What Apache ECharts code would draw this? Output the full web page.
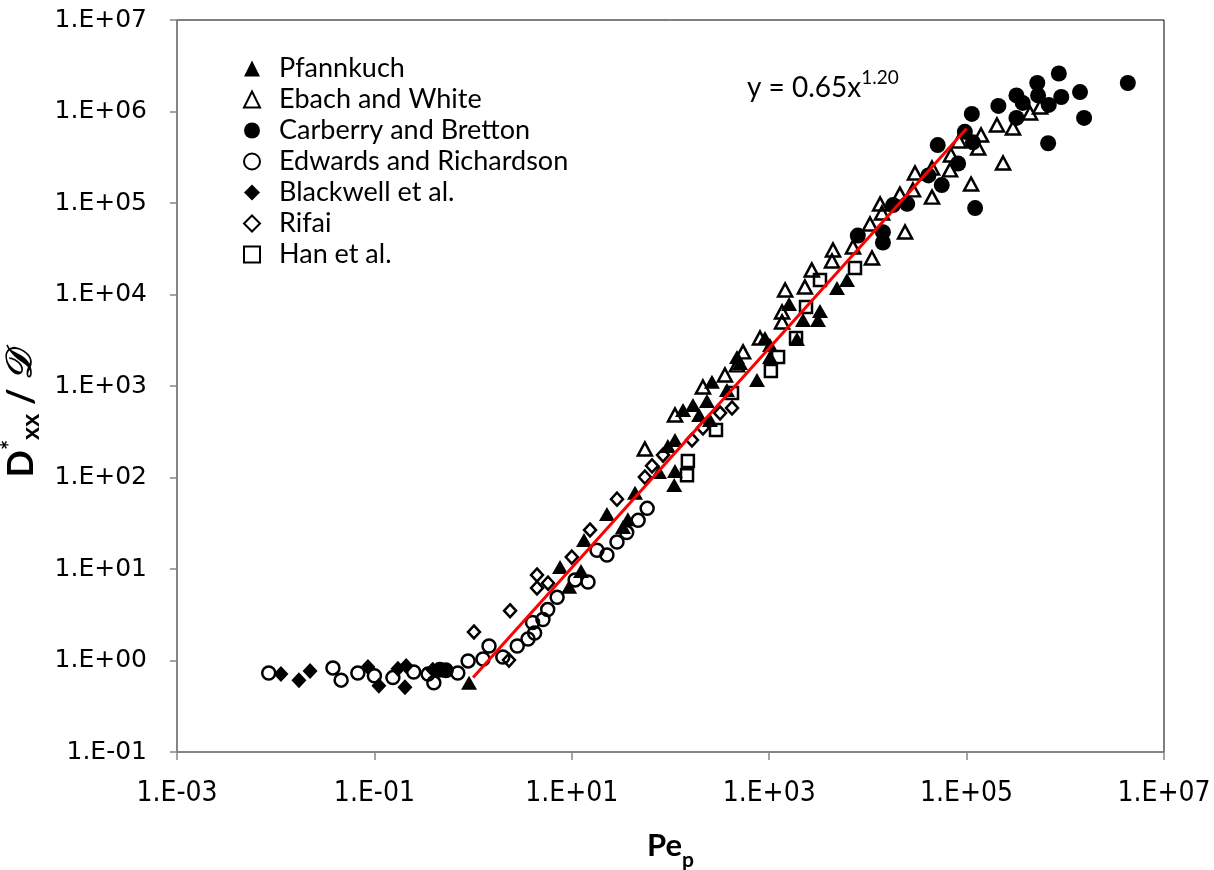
<!DOCTYPE html>
<html><head><meta charset="utf-8">
<script src="https://cdn.jsdelivr.net/npm/echarts@6/dist/echarts.min.js"></script>
<style>html,body{margin:0;padding:0;background:#fff}#c{width:1214px;height:870px}</style>
</head><body><div id="c"></div>
<script>
// ---- data (Pe_p, D*xx/D) ----
const pfannkuchX = [0.91, 7.6, 12.4, 9.4, 13.3, 22.7, 33, 37, 43.7, 76.5, 109, 111, 94, 111, 134, 169, 195, 234, 263, 251, 373, 472, 506, 752, 906, 1020, 1020, 1590, 1910, 3270, 3120, 2200, 4860, 6140];
const pfannkuchY = [0.57, 10.5, 9.5, 6.4, 20.7, 40, 28.8, 35, 68, 115, 83, 118, 221, 257, 547, 620, 482, 686, 1110, 425, 904, 2070, 1780, 1160, 3350, 2800, 2070, 7870, 3270, 6600, 5260, 5260, 11800, 14400];

const ebachX = [55, 111, 213, 356, 472, 543, 807, 1350, 1350, 1450, 2300, 2700, 4330, 4430, 7060, 10500, 11000, 13300, 13900, 21100, 23800, 28600, 30000, 44600, 44600, 67900, 69500, 83700, 131000, 140000, 111000, 203000, 234000, 295000, 439000, 555000];
const ebachY = [205, 482, 975, 1320, 1700, 2360, 3350, 5000, 6440, 11200, 12100, 18500, 23200, 30600, 33000, 58900, 25100, 97500, 77800, 125000, 48200, 139000, 213000, 116000, 241000, 230000, 335000, 476000, 399000, 553000, 161000, 711000, 274000, 661000, 964000, 1120000];

const carberryX = [0.46, 0.53, 8.6e5, 4.3e6, 5.2e5, 3.2e5, 2.1e5, 3.7e5, 5.3e5, 6.8e5, 9.1e5, 1.41e6, 1.55e6, 1.13e5, 3.2e5, 9.6e4, 1.16e5, 5.1e4, 8.2e4, 4.1e4, 5.6e4, 2.5e4, 1.8e4, 1.42e4, 1.42e4, 7.9e3, 6.7e5, 1.22e5];
const carberryY = [0.79, 0.78, 2.6e6, 2.05e6, 2.05e6, 1.5e6, 1.15e6, 1.24e6, 1.5e6, 1.18e6, 1.44e6, 1.63e6, 8.5e5, 9.4e5, 8.5e5, 6.0e5, 4.6e5, 4.3e5, 2.7e5, 2.0e5, 1.57e5, 9.8e4, 9.5e4, 4.8e4, 3.7e4, 4.4e4, 4.5e5, 8.8e4];

const edwardsX = [0.0085, 0.038, 0.046, 0.068, 0.10, 0.154, 0.25, 0.35, 0.40, 0.70, 0.89, 1.26, 1.45, 2.0, 2.8, 3.6, 4.2, 4.0, 5.1, 5.7, 7.1, 10.8, 14.6, 18, 22.7, 28.7, 36, 47, 58];
const edwardsY = [0.73, 0.83, 0.61, 0.73, 0.68, 0.65, 0.75, 0.71, 0.57, 0.73, 0.99, 1.04, 1.44, 1.09, 1.44, 1.72, 2.0, 2.6, 2.8, 3.6, 4.9, 7.6, 7.2, 16, 14.2, 19.7, 25, 34, 46];

const blackwellX = [0.0113, 0.0172, 0.0223, 0.086, 0.111, 0.173, 0.21, 0.204, 0.39];
const blackwellY = [0.71, 0.61, 0.77, 0.85, 0.53, 0.81, 0.87, 0.51, 0.79];

const rifaiX = [1.02, 2.31, 2.37, 4.44, 4.44, 5.74, 10, 15.3, 28.7, 55, 65, 84, 165, 213, 318, 420];
const rifaiY = [2.05, 1.01, 3.5, 8.6, 6.2, 7.0, 13.5, 26.7, 58, 101, 134, 176, 257, 348, 507, 575];

const hanX = [150, 147, 289, 420, 1040, 1230, 1870, 2360, 3270, 7400];
const hanY = [151, 106, 330, 838, 1460, 2070, 3350, 7300, 14400, 19500];

// power-law fit y = 0.65 x^1.20, drawn between its end points
const trendX = [1, 100000];
const trendY = [0.65, 650000];

const xTickLabels = ['1.E-03', '1.E-01', '1.E+01', '1.E+03', '1.E+05', '1.E+07'];
const yTickLabels = ['1.E-01', '1.E+00', '1.E+01', '1.E+02', '1.E+03', '1.E+04', '1.E+05', '1.E+06', '1.E+07'];
const xExps = [-3, -1, 1, 3, 5, 7];
const yExps = [-1, 0, 1, 2, 3, 4, 5, 6, 7];

const pairs = (xs, ys) => xs.map((x, i) => [x, ys[i]]);
const BLACK = '#000';

function scatter(name, xs, ys, symbol, size, filled, border) {
  return {
    name, type: 'scatter', data: pairs(xs, ys), symbol, symbolSize: size,
    itemStyle: filled ? { color: BLACK, opacity: 1 } : { color: 'rgba(255,255,255,0)', borderColor: BLACK, borderWidth: border, opacity: 1 },
    emphasis: { disabled: true }, animation: false
  };
}

const chart = echarts.init(document.getElementById('c'), null, { renderer: 'canvas' });
const labelFmt = (labels, exps) => v => {
  const e = Math.round(Math.log10(v));
  const i = exps.indexOf(e);
  return i >= 0 ? labels[i] : '';
};

chart.setOption({
  backgroundColor: '#fff',
  animation: false,
  grid: { left: 177, right: 50, top: 20, bottom: 118, containLabel: false, outerBoundsMode: 'none',
          show: true, borderColor: '#000', borderWidth: 1, backgroundColor: 'transparent' },
  xAxis: {
    type: 'log', logBase: 10, min: 0.001, max: 1e7, interval: 2,
    axisLine: { show: true, onZero: false, lineStyle: { color: '#868686', width: 1.5 } },
    axisTick: { show: true, length: 8, lineStyle: { color: '#868686', width: 1.5 } },
    splitLine: { show: false }, minorTick: { show: false },
    axisLabel: { formatter: labelFmt(xTickLabels, xExps), margin: 28, color: '#000', fontFamily: "'Liberation Sans Narrow', 'DejaVu Sans Condensed', sans-serif", fontSize: 28 },
    name: '{b|Pe}{s|p}', nameLocation: 'middle', nameGap: 78,
    nameTextStyle: { rich: {
      b: { fontFamily: 'Lato', fontWeight: 'bold', fontSize: 31, color: '#000', lineHeight: 36, verticalAlign: 'top' },
      s: { fontFamily: 'Lato', fontWeight: 'bold', fontSize: 21, color: '#000', lineHeight: 20, verticalAlign: 'bottom', padding: [0, 0, -5, 0] }
    } }
  },
  yAxis: {
    type: 'log', logBase: 10, min: 0.1, max: 1e7, interval: 1,
    axisLine: { show: true, onZero: false, lineStyle: { color: '#868686', width: 1.5 } },
    axisTick: { show: true, length: 7, lineStyle: { color: '#868686', width: 1.5 } },
    splitLine: { show: false }, minorTick: { show: false },
    axisLabel: { formatter: labelFmt(yTickLabels, yExps), margin: 30, color: '#000', fontFamily: "'DejaVu Sans', sans-serif", fontSize: 25 },
    name: '{b|D}{sup|*}{sub|xx}{b| / }{d|𝒟}', nameLocation: 'middle', nameGap: 95, nameRotate: 90,
    nameTextStyle: { padding: [0, 56, 0, 0], rich: {
      b: { fontFamily: 'Lato', fontWeight: 'bold', fontSize: 36, color: '#000', lineHeight: 44 },
      sup: { fontFamily: 'Lato', fontWeight: 'bold', fontSize: 24, color: '#000', lineHeight: 24, verticalAlign: 'top' },
      sub: { fontFamily: 'Lato', fontWeight: 'bold', fontSize: 25, color: '#000', lineHeight: 25, verticalAlign: 'bottom' },
      d: { fontFamily: "'DejaVu Serif', 'Noto Sans', serif", fontWeight: 'bold', fontStyle: 'italic', fontSize: 36, color: '#000', lineHeight: 44 }
    } }
  },
  legend: {
    orient: 'vertical', left: 238, top: 50, itemWidth: 16, itemHeight: 16, itemGap: 4,
    textStyle: { fontFamily: 'Lato', fontSize: 27, lineHeight: 27, color: '#000', padding: [0, 0, 0, 14] },
    data: ['Pfannkuch', 'Ebach and White', 'Carberry and Bretton', 'Edwards and Richardson', 'Blackwell et al.', 'Rifai', 'Han et al.'],
    selectedMode: false
  },
  graphic: [{
    type: 'text', left: 747, top: 68, z: 100,
    style: {
      text: '{m|y = 0.65x}{s|1.20}',
      rich: {
        m: { fontFamily: 'Lato', fontSize: 28, lineHeight: 34, fill: '#000', verticalAlign: 'bottom' },
        s: { fontFamily: 'Lato', fontSize: 19, lineHeight: 19, fill: '#000', verticalAlign: 'top' }
      }
    }
  }],
  series: [
    scatter('Pfannkuch', pfannkuchX, pfannkuchY, 'triangle', [16, 14], true),
    scatter('Ebach and White', ebachX, ebachY, 'triangle', [14, 13], false, 2.5),
    scatter('Carberry and Bretton', carberryX, carberryY, 'circle', 16, true),
    scatter('Edwards and Richardson', edwardsX, edwardsY, 'circle', 13, false, 2.5),
    scatter('Blackwell et al.', blackwellX, blackwellY, 'diamond', [15, 16], true),
    scatter('Rifai', rifaiX, rifaiY, 'diamond', [12, 13], false, 2.5),
    scatter('Han et al.', hanX, hanY, 'rect', 12, false, 2.5),
    {
      name: 'trend', type: 'line', data: pairs(trendX, trendY), symbol: 'none', z: 5,
      lineStyle: { color: '#ff0000', width: 3 }, emphasis: { disabled: true }, animation: false
    }
  ]
});
</script>
</body></html>
